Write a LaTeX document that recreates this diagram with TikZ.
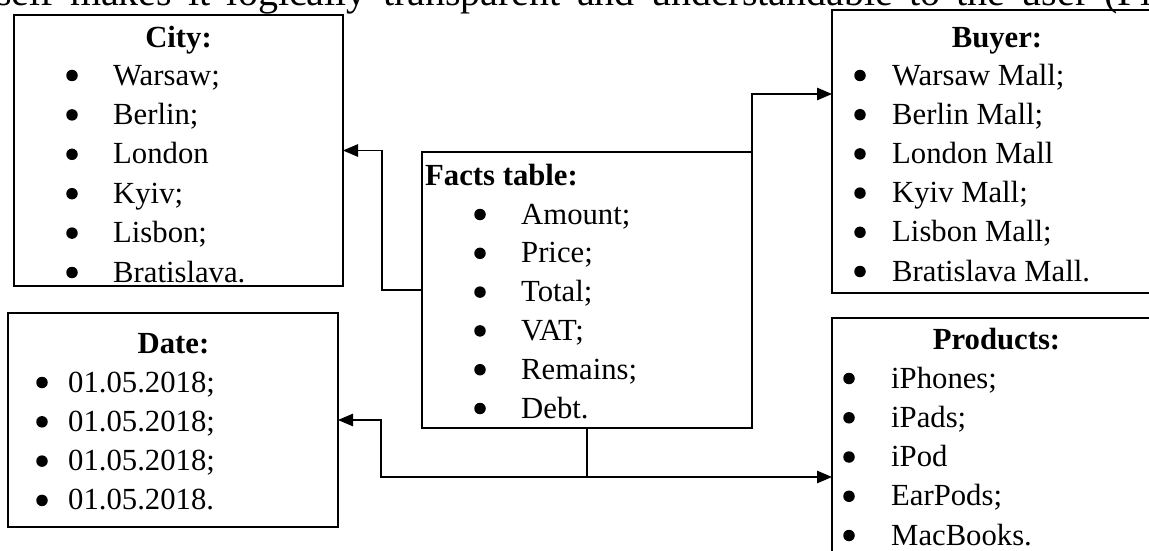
\documentclass[tikz,border=0pt]{standalone}
\usepackage{fontspec}
\setmainfont{Liberation Serif}
\usetikzlibrary{arrows.meta,fit}

% list of bulleted entries: name, bullet x, text x, first baseline, line step, entries
\newcommand\bulletlist[6]{%
  \foreach \entry [count=\i] in {#6} {%
    \node[dot] (#1-b\i) at (#2,{#4+(\i-1)*#5-9.5}) {};
    \node[txt] (#1-t\i) at (#3,{#4+(\i-1)*#5}) {\entry};
  }%
}

\begin{document}
\begin{tikzpicture}[x=1pt,y=-1pt,
  box/.style={draw,line width=2.8pt,inner sep=0pt,outer sep=0pt},
  txt/.style={anchor=base west,inner sep=0pt,font=\fontsize{30.7}{36}\selectfont},
  hdr/.style={anchor=base,inner sep=0pt,font=\fontsize{30.7}{36}\selectfont\bfseries},
  dot/.style={circle,fill,inner sep=0pt,minimum size=11.5pt},
  link/.style={line width=1.2pt},
  arr/.style={link,-{Triangle[length=15pt,width=12.5pt]}}]
\useasboundingbox (0,0) rectangle (1149,551);
\clip (0,0) rectangle (1149,551);

% running text of the page, cut at the top edge
\node[anchor=base west,inner sep=0pt,font=\fontsize{40}{44}\selectfont] (intro) at (-4,6)
  {\makebox[1175pt][s]{self makes it logically transparent and understandable to the user (Fig}};

% frames
\node[box,fit={(14,15) (343,286)}] (city) {};
\node[box,fit={(832,10) (1162,293)}] (buyer) {};
\node[box,fit={(422,152) (752,428)}] (facts) {};
\node[box,fit={(8,313) (338,527)}] (date) {};
\node[box,fit={(832,318) (1162,580)}] (products) {};

% contents
\node[hdr] (city-h) at (178.5,48) {City:};
\bulletlist{city}{72}{113}{85}{39.4}{Warsaw;,Berlin;,London,Kyiv;,Lisbon;,Bratislava.}

\node[hdr] (buyer-h) at (997,48) {Buyer:};
\bulletlist{buyer}{860}{892}{85}{39.2}{Warsaw Mall;,Berlin Mall;,London Mall,Kyiv Mall;,Lisbon Mall;,Bratislava Mall.}

\node[hdr,anchor=base west] (facts-h) at (425,185) {Facts table:};
\bulletlist{facts}{480}{521}{224}{38.8}{Amount;,Price;,Total;,VAT;,Remains;,Debt.}

\node[hdr] (date-h) at (173.5,353) {Date:};
\bulletlist{date}{42}{68}{392}{39.3}{01.05.2018;,01.05.2018;,01.05.2018;,01.05.2018.}

\node[hdr] (products-h) at (996.5,349) {Products:};
\bulletlist{products}{849}{891}{388}{39.25}{iPhones;,iPads;,iPod,EarPods;,MacBooks.}

% connectors
\coordinate (split) at (facts.south |- 0,477);
\coordinate (buyer-in) at (buyer.west |- 0,94);
\coordinate (products-in) at (products.west |- 0,477);
\draw[arr] (facts.west) -- (382,290) |- (city.east);
\draw[arr] (facts.north east) |- (buyer-in);
\draw[arr] (facts.south) -- (split) -- (381,477) |- (date.east);
\draw[arr] (split) -- (products-in);
\end{tikzpicture}
\end{document}
